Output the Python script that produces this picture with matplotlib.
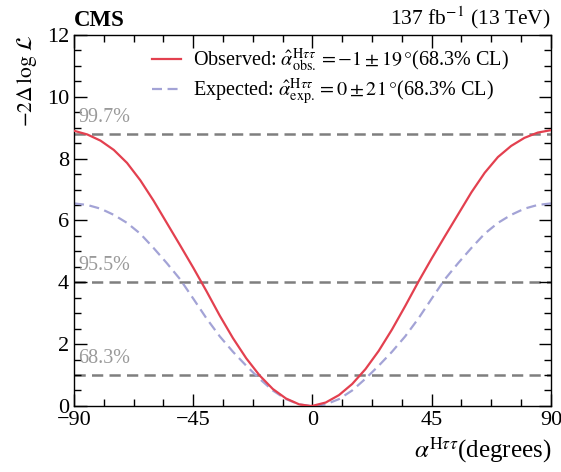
import numpy as np
import matplotlib
matplotlib.use("Agg")
import matplotlib.pyplot as plt
from matplotlib.ticker import MultipleLocator

plt.rcParams['font.family'] = ['Liberation Serif', 'DejaVu Serif']
plt.rcParams['mathtext.fontset'] = 'stix'

# scan points (degrees, -2 delta log L)
alpha = [-90, -85, -80, -75, -70, -65, -60, -55, -50, -45, -40, -35, -30, -25,
         -20, -15, -10, -5, -1, 0, 5, 10, 15, 20, 25, 30, 35, 40, 45, 50, 55,
         60, 65, 70, 75, 80, 85, 90]
observed = [8.90, 8.78, 8.58, 8.28, 7.86, 7.30, 6.64, 5.92, 5.20, 4.47, 3.71,
            2.92, 2.19, 1.54, 0.99, 0.55, 0.24, 0.05, 0.00, 0.003, 0.11, 0.35,
            0.71, 1.19, 1.78, 2.47, 3.23, 4.02, 4.77, 5.49, 6.20, 6.91, 7.54,
            8.05, 8.41, 8.67, 8.84, 8.92]
expected = [6.55, 6.50, 6.38, 6.18, 5.92, 5.57, 5.11, 4.62, 4.10, 3.47, 2.83,
            2.25, 1.75, 1.30, 0.88, 0.50, 0.22, 0.05, 0.002, 0.00, 0.05, 0.22,
            0.50, 0.88, 1.30, 1.75, 2.25, 2.83, 3.47, 4.10, 4.62, 5.11, 5.57,
            5.92, 6.18, 6.38, 6.50, 6.55]

cl_levels = [1.0, 4.0, 8.8]
cl_labels = ['68.3%', '95.5%', '99.7%']

fig = plt.figure(figsize=(5.61, 4.72), dpi=100)
ax = fig.add_axes([0.132, 0.140, 0.850, 0.786])

for lev, lab in zip(cl_levels, cl_labels):
    ax.axhline(lev, color='#7f7f7f', lw=1.8, ls=(0, (4.5, 2.5)), zorder=1)
    ax.text(-88.5, lev + 0.22, lab, color='#9a9a9a', fontsize=14.5,
            ha='left', va='bottom')

ax.plot(alpha, expected, color='#a3a3d6', lw=1.6, ls=(0, (4.5, 2.5)),
        label=r'Expected: $\hat{\alpha}^{\mathrm{H}\tau\tau}_{\mathrm{exp.}} = 0 \pm 21\,°$(68.3% CL)',
        zorder=2)
ax.plot(alpha, observed, color='#e3404f', lw=1.6,
        label=r'Observed: $\hat{\alpha}^{\mathrm{H}\tau\tau}_{\mathrm{obs.}} = -1 \pm 19\,°$(68.3% CL)',
        zorder=3)

ax.set_xlim(-90, 90)
ax.set_ylim(0, 12)
ax.xaxis.set_major_locator(MultipleLocator(45))
ax.xaxis.set_minor_locator(MultipleLocator(11.25))
ax.yaxis.set_major_locator(MultipleLocator(2))
ax.yaxis.set_minor_locator(MultipleLocator(0.5))
ax.tick_params(which='both', direction='in', top=True, right=True,
               labelsize=16, width=1.0)
ax.tick_params(which='major', length=9)
ax.tick_params(which='minor', length=5)
ax.set_xticks([-90, -45, 0, 45, 90])
ax.set_xticklabels(['\u221290', '\u221245', '0', '45', '90'])
for s in ax.spines.values():
    s.set_linewidth(1.0)

ax.set_ylabel(r'$-2\Delta\,\log\,\mathcal{L}$', fontsize=15.5, loc='top',
              labelpad=6)
ax.set_xlabel(r'$\alpha^{\mathrm{H}\tau\tau}$(degrees)', fontsize=18,
              loc='right', labelpad=4)

h, l = ax.get_legend_handles_labels()
ax.legend(h[::-1], l[::-1], loc='upper left', bbox_to_anchor=(0.125, 1.017),
          frameon=False, fontsize=14.5, handlelength=1.45, handletextpad=0.6,
          labelspacing=0.12)

fig.text(0.132, 0.935, 'CMS', fontsize=16.5, fontweight='bold',
         ha='left', va='bottom')
fig.text(0.982, 0.935, r'137 fb$^{-1}$ (13 TeV)', fontsize=15.5,
         ha='right', va='bottom')

fig.savefig('out.png', dpi=100)
